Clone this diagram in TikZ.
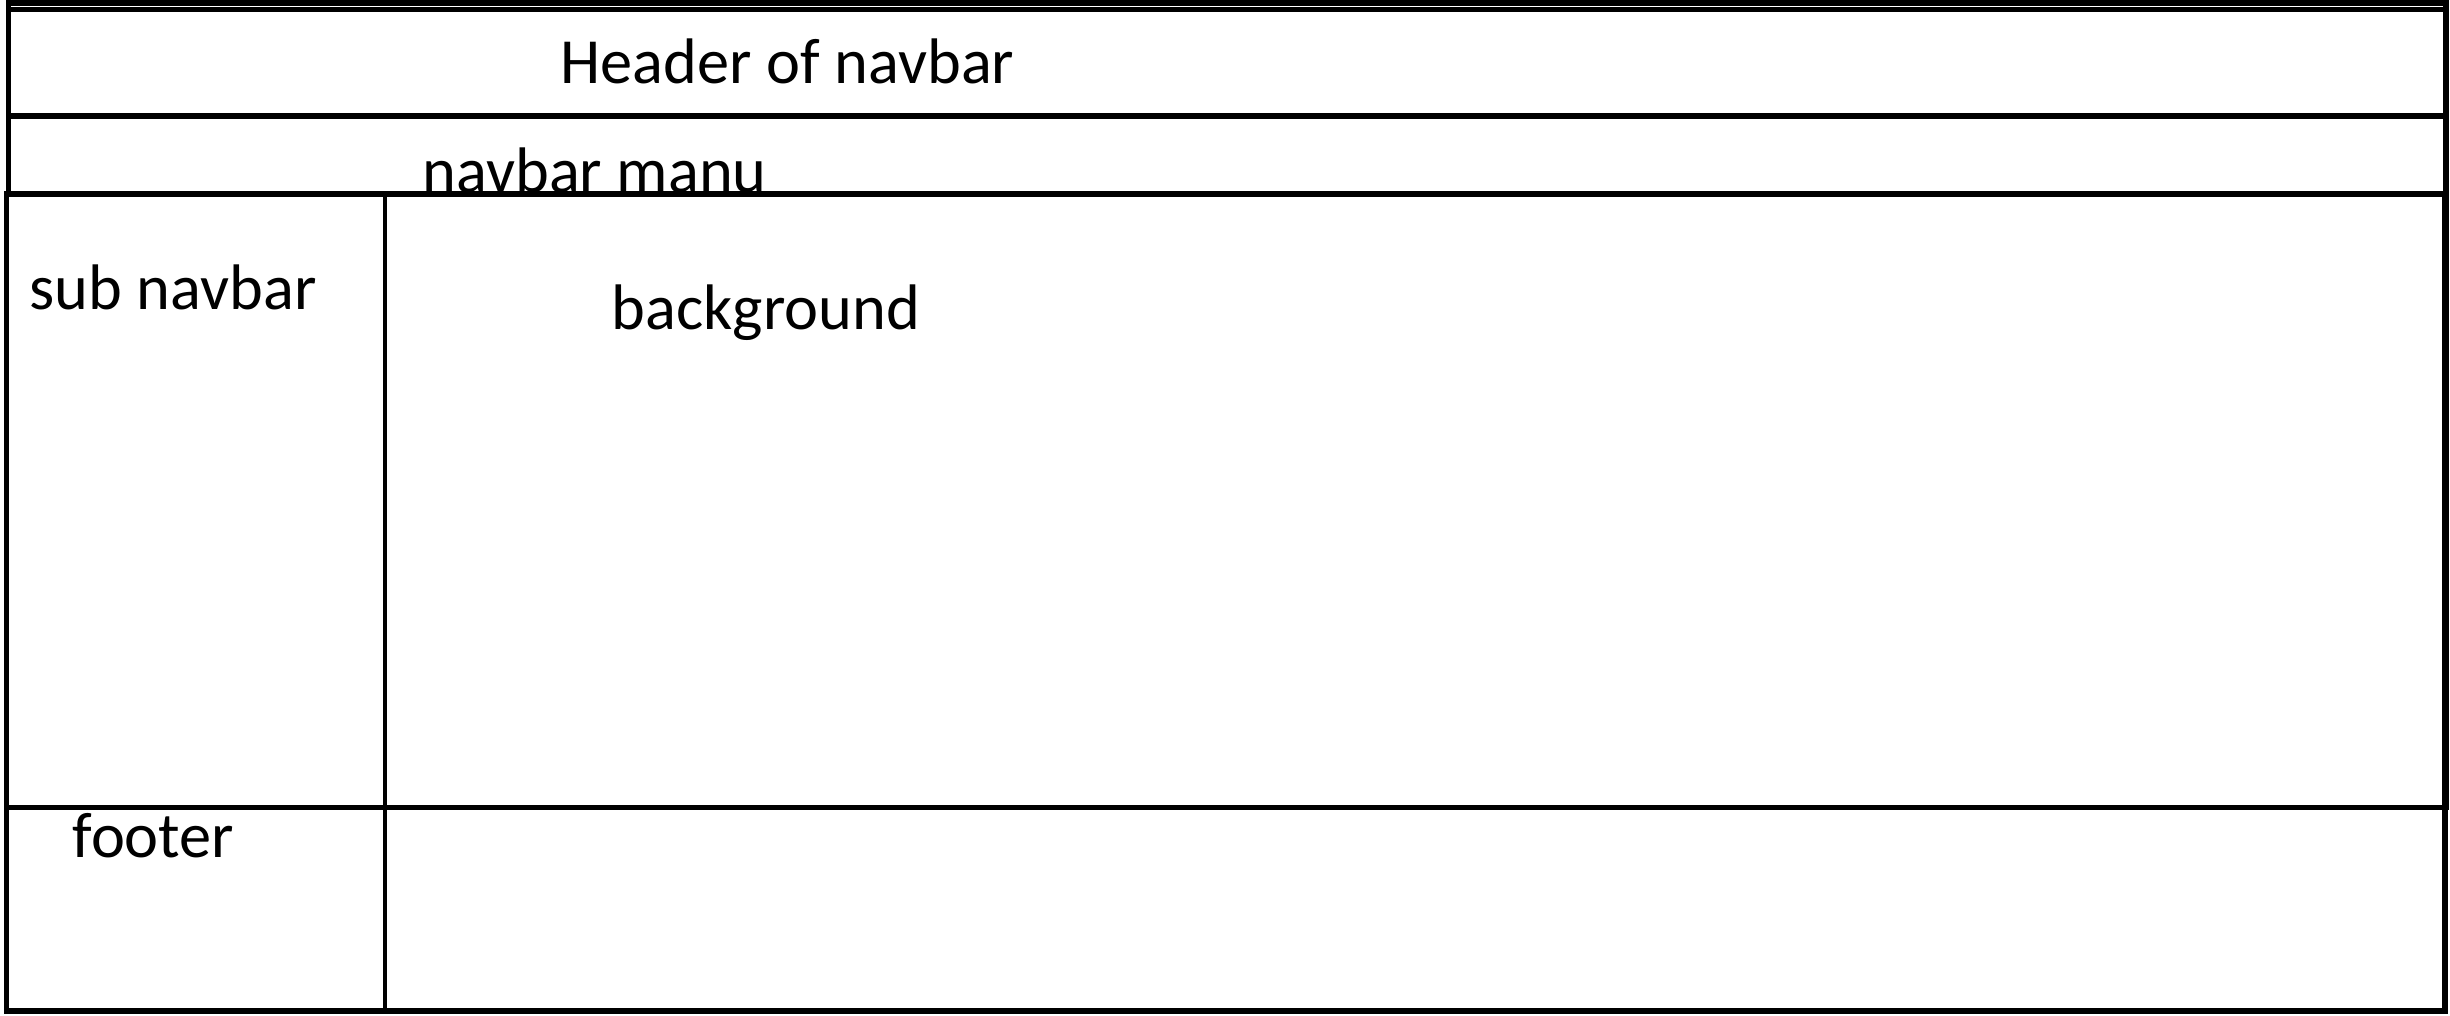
\documentclass[tikz,border=0pt]{standalone}
\usepackage{fontspec}
\setmainfont{Carlito}
\begin{document}
\begin{tikzpicture}[x=0.01cm,y=-0.01cm,
  frame/.style={draw=black,line width=1.7pt},
  thinframe/.style={draw=black,line width=1.4pt},
  lbl/.style={anchor=base west,inner sep=0pt,font=\fontsize{18.3}{22}\selectfont}]
\useasboundingbox[fill=white] (0,0) rectangle (2450,1016);
% outer navbar area and header box
\draw[frame] (8.5,3) rectangle (2445.5,807);
\draw[frame] (8.5,9.5) -- (2443,9.5);
\draw[frame] (8.5,116) -- (2445.5,116);
\node[lbl] (header) at (560,84) {Header of navbar};
\node[lbl] (menu) at (422,193) {navbar manu};
% lower box (white filled, covers the menu text descenders)
\draw[frame,fill=white] (6.5,194) rectangle (2444.5,1011);
\draw[thinframe] (385,194) -- (385,1013);
\draw[frame] (4,807.5) -- (2446,807.5);
\node[lbl] (sub) at (29,310) {sub navbar};
\node[lbl] (bg) at (611,330) {background};
\node[lbl] (footer) at (72,858) {footer};
\end{tikzpicture}
\end{document}
